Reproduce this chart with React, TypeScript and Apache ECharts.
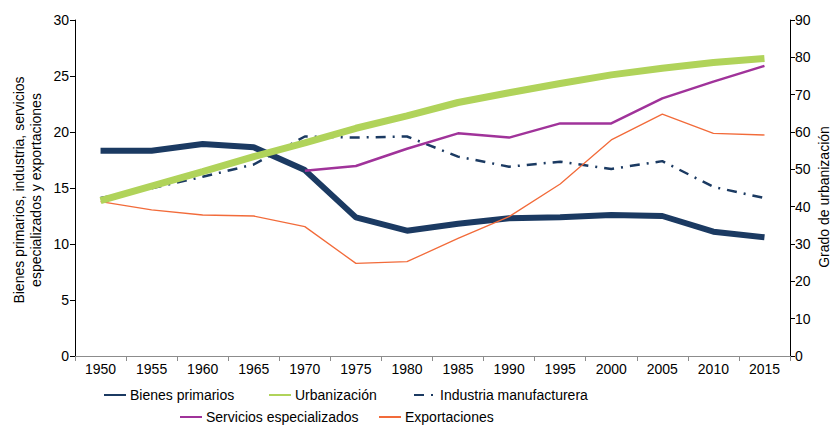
import React, { useEffect, useRef } from "react";
import * as echarts from "echarts";

const years = ["1950","1955","1960","1965","1970","1975","1980","1985","1990","1995","2000","2005","2010","2015"];
const bienesPrimarios = [18.33, 18.33, 18.93, 18.63, 16.6, 12.38, 11.19, 11.8, 12.29, 12.38, 12.59, 12.5, 11.1, 10.6];
const urbanizacion = [41.6, 45.5, 49.4, 53.4, 57.1, 61.0, 64.3, 67.9, 70.5, 73.0, 75.3, 77.1, 78.6, 79.7];
const industria = [14.1, 14.97, 16.0, 17.1, 19.6, 19.5, 19.6, 17.8, 16.9, 17.35, 16.7, 17.4, 15.1, 14.1];
const servicios = [null, null, null, null, 16.55, 16.96, 18.5, 19.88, 19.5, 20.77, 20.77, 23.0, 24.5, 25.9];
const exportaciones = [13.78, 13.04, 12.59, 12.5, 11.55, 8.27, 8.42, 10.5, 12.44, 15.36, 19.29, 21.6, 19.88, 19.73];

const NAVY = "#1b3a62";
const GREEN = "#b0d35a";
const PURPLE = "#a0339a";
const ORANGE = "#f26b3a";
const FONT = "Liberation Sans, Arial, sans-serif";

export default function App() {
  const ref = useRef<HTMLDivElement>(null);
  useEffect(() => {
    if (!ref.current) return;
    const chart = echarts.init(ref.current, null, { renderer: "svg" });
    const legendItem = (name: string, left: number, top: number) => ({
      data: [name],
      left,
      top,
      padding: 0,
      itemWidth: 22,
      itemHeight: 12,
      itemGap: 4,
      itemStyle: { opacity: 0 },
      textStyle: { fontSize: 14, color: "#000", fontFamily: FONT, padding: [0, 0, 0, -1] },
    });
    chart.setOption({
      animation: false,
      textStyle: { fontFamily: FONT },
      grid: { left: 75, right: 47, top: 20, bottom: 70 },
      legend: [
        legendItem("Bienes primarios", 103, 388),
        legendItem("Urbanización", 268, 388),
        legendItem("Industria manufacturera", 413, 388),
        legendItem("Servicios especializados", 179, 410),
        legendItem("Exportaciones", 378, 410),
      ],
      xAxis: {
        type: "category",
        data: years,
        boundaryGap: true,
        axisLine: { lineStyle: { color: "#8c8c8c", width: 1 } },
        axisTick: { show: true, length: 5, lineStyle: { color: "#8c8c8c" } },
        axisLabel: { fontSize: 14, color: "#000", margin: 6, fontFamily: FONT },
      },
      yAxis: [
        {
          type: "value",
          min: 0,
          max: 30,
          interval: 5,
          position: "left",
          splitLine: { show: false },
          axisLine: { show: true, lineStyle: { color: "#000" } },
          axisTick: { show: true, length: 5, lineStyle: { color: "#000" } },
          axisLabel: { fontSize: 14, color: "#000", margin: 6, fontFamily: FONT },
        },
        {
          type: "value",
          min: 0,
          max: 90,
          interval: 10,
          position: "right",
          splitLine: { show: false },
          axisLine: { show: true, lineStyle: { color: "#000" } },
          axisTick: { show: true, length: 5, lineStyle: { color: "#000" } },
          axisLabel: { fontSize: 14, color: "#000", margin: 5, fontFamily: FONT },
        },
      ],
      graphic: [
        {
          type: "text",
          x: 27,
          y: 190,
          rotation: Math.PI / 2,
          style: {
            text: "Bienes primarios, industria, servicios\nespecializados y exportaciones",
            fontSize: 14,
            lineHeight: 17,
            fill: "#000",
            fontFamily: FONT,
            align: "center",
            verticalAlign: "middle",
          },
        },
        {
          type: "text",
          x: 824,
          y: 197,
          rotation: Math.PI / 2,
          style: {
            text: "Grado de urbanización",
            fontSize: 14,
            fill: "#000",
            fontFamily: FONT,
            align: "center",
            verticalAlign: "middle",
          },
        },
      ],
      series: [
        {
          name: "Bienes primarios",
          type: "line",
          data: bienesPrimarios,
          symbol: "none",
          color: NAVY,
          lineStyle: { width: 6, color: NAVY },
          z: 2,
        },
        {
          name: "Industria manufacturera",
          type: "line",
          data: industria,
          symbol: "none",
          color: NAVY,
          lineStyle: { width: 2.5, color: NAVY, type: [10, 7, 2, 7] },
          z: 2,
        },
        {
          name: "Servicios especializados",
          type: "line",
          data: servicios,
          symbol: "none",
          color: PURPLE,
          lineStyle: { width: 2.5, color: PURPLE },
          z: 2,
        },
        {
          name: "Exportaciones",
          type: "line",
          data: exportaciones,
          symbol: "none",
          color: ORANGE,
          lineStyle: { width: 1.3, color: ORANGE },
          z: 2,
        },
        {
          name: "Urbanización",
          type: "line",
          data: urbanizacion,
          yAxisIndex: 1,
          symbol: "none",
          color: GREEN,
          lineStyle: { width: 7, color: GREEN },
          z: 3,
        },
      ],
    });
    return () => chart.dispose();
  }, []);
  return (
    <div
      ref={ref}
      style={{ position: "fixed", left: 0, top: 0, width: 837, height: 426, background: "#fff" }}
    />
  );
}
